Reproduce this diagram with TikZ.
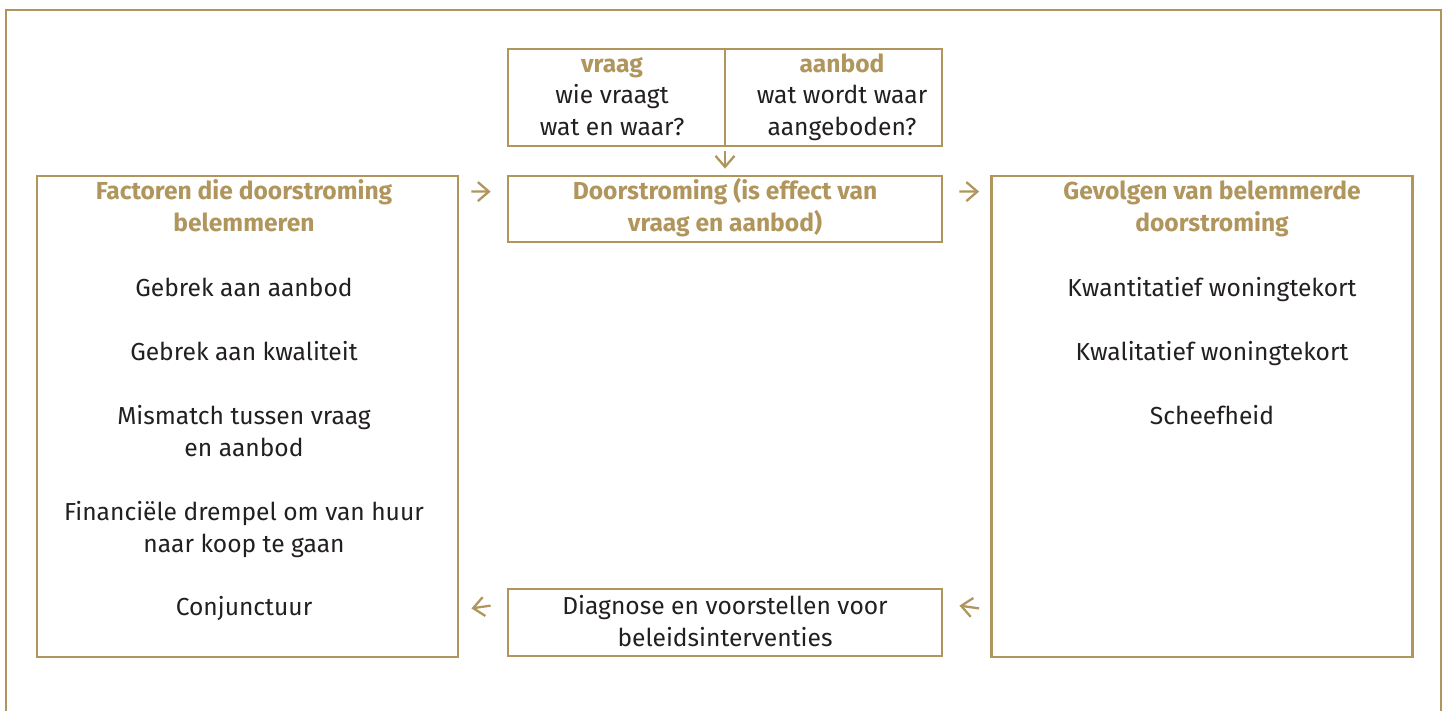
\documentclass[tikz,border=0pt]{standalone}
\usepackage{fontspec}
\setmainfont{Fira Sans}
\usetikzlibrary{arrows.meta,calc}
\definecolor{goud}{RGB}{176,149,92}
\definecolor{inkt}{RGB}{35,31,32}
\tikzset{
  kader/.style={draw=goud, line width=1.6pt, rectangle, inner sep=0pt},
  tekst/.style={text=inkt, font=\fontsize{14}{18}\selectfont, align=center, inner sep=0pt, anchor=base},
  kop/.style={tekst, text=goud, font=\fontsize{14}{18}\selectfont\bfseries},
  pijl/.style={-{Straight Barb[length=2.2mm,width=3.8mm]}, draw=goud, line width=1.3pt}
}

\begin{document}
\begin{tikzpicture}[x=0.2mm, y=-0.2mm]
\useasboundingbox (0,0) rectangle (1447,711);
\draw[goud, line width=1.6pt] (6,711) |- (1441,10) -- (1441,711);
% boxes
\node[kader, minimum width=84.2mm, minimum height=96.2mm] (factoren) at (247.5,416.5) {};
\node[kader, minimum width=84.2mm, minimum height=96.2mm] (gevolgen) at (1202,416.5) {};
\node[kader, minimum width=86.8mm, minimum height=19.4mm] (vraagaanbod) at (725,97.5) {};
\node[kader, minimum width=86.8mm, minimum height=13.2mm] (door) at (725,209) {};
\node[kader, minimum width=86.8mm, minimum height=13.4mm] (diagnose) at (725,622.5) {};
\draw[goud, line width=1.6pt] (vraagaanbod.north) -- (vraagaanbod.south);
% texts (base = last line)
\node[kop] (vraag) at (612,72) {vraag};
\node[tekst] (vraagtekst) at (612,135) {wie vraagt\\wat en waar?};
\node[kop] (aanbod) at (842,72) {aanbod};
\node[tekst] (aanbodtekst) at (842,135) {wat wordt waar\\aangeboden?};
\node[kop] (doortekst) at (725,231) {Doorstroming (is effect van\\vraag en aanbod)};
\node[tekst] (diagtekst) at (725,646) {Diagnose en voorstellen voor\\beleidsinterventies};
\node[kop] (factortitel) at (244,231) {Factoren die doorstroming\\belemmeren};
\foreach \y/\t [count=\i] in {296/Gebrek aan aanbod, 360/Gebrek aan kwaliteit, 456/{Mismatch tussen vraag\\en aanbod}, 552/{Financiële drempel om van huur\\naar koop te gaan}, 615/Conjunctuur}
  \node[tekst] (factor\i) at (244,\y) {\t};
\node[kop] (gevolgtitel) at (1212,231) {Gevolgen van belemmerde\\doorstroming};
\foreach \y/\t [count=\i] in {296/Kwantitatief woningtekort, 360/Kwalitatief woningtekort, 424/Scheefheid}
  \node[tekst] (gevolg\i) at (1212,\y) {\t};
% arrows
\draw[pijl] ($(factoren.north east)+(12,17)$) -- ($(door.north west)+(-16,17)$);
\draw[pijl] ($(door.north east)+(16,17)$) -- ($(gevolgen.north west)+(-11,17)$);
\draw[pijl] ($(vraagaanbod.south)+(0,4)$) -- ($(door.north)+(0,-6)$);
\draw[pijl] ($(gevolgen.south west)+(-11,-50)$) -- ($(diagnose.north east)+(16,18)$);
\draw[pijl] ($(diagnose.north west)+(-16,18)$) -- ($(factoren.south east)+(12,-50)$);
\end{tikzpicture}
\end{document}
